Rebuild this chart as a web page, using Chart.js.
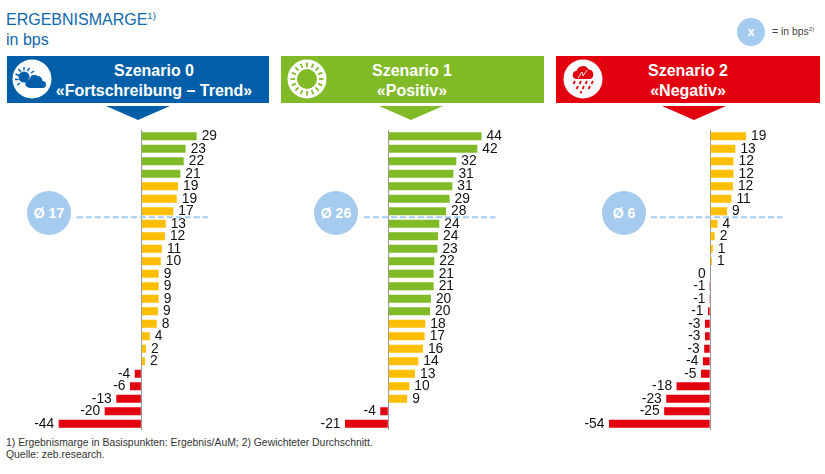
<!DOCTYPE html>
<html>
<head>
<meta charset="utf-8">
<script src="https://cdn.jsdelivr.net/npm/chart.js@4"></script>
<style>
  html, body { margin: 0; padding: 0; background: #fff; }
  body { position: relative; width: 825px; height: 474px; overflow: hidden; font-family: "Liberation Sans", Arial, sans-serif; }
  .abs { position: absolute; }
  .title { left: 6px; color: #1068ae; font-size: 16px; white-space: nowrap; }
  .title sup, .legend sup { font-size: 60%; line-height: 0; }
  .box { top: 56px; height: 47px; color: #fff; }
  .box div { position: absolute; top: 5px; transform: translateX(-50%); text-align: center; font-weight: bold; font-size: 16px; line-height: 19.5px; white-space: nowrap; }
  .arrow { top: 106px; width: 64px; height: 14px; clip-path: polygon(0 0, 100% 0, 50% 100%); }
  .icon { top: 59px; width: 40px; height: 40px; }
  .avg { top: 191px; width: 44px; height: 44px; border-radius: 50%; background: #a5cbee; color: #fff; font-weight: bold; font-size: 14px; line-height: 44px; text-align: center; }
  .chartbox { top: 130px; width: 270px; height: 300px; }
  .foot { left: 6px; font-size: 10.4px; color: #333; white-space: nowrap; }
</style>
</head>
<body>
<div class="abs title" style="top:11px">ERGEBNISMARGE<sup>1)</sup></div>
<div class="abs title" style="top:31px">in bps</div>

<div class="abs" style="left:737px;top:18px;width:28px;height:28px;border-radius:50%;background:#a5cbee;color:#fff;text-align:center;line-height:28px;font-size:12px;font-weight:bold">x</div>
<div class="abs legend" style="left:772px;top:26px;font-size:10.4px;color:#444;white-space:nowrap">= in bps<sup>2)</sup></div>

<div class="abs box" style="left:7px;width:262px;background:#005fa8"><div style="left:147px">Szenario 0<br>«Fortschreibung – Trend»</div></div>
<div class="abs box" style="left:281px;width:263px;background:#80ba27"><div style="left:131px">Szenario 1<br>«Positiv»</div></div>
<div class="abs box" style="left:556px;width:264px;background:#e2000f"><div style="left:132px">Szenario 2<br>«Negativ»</div></div>

<div class="abs arrow" style="left:106px;background:#005fa8"></div>
<div class="abs arrow" style="left:379px;background:#80ba27"></div>
<div class="abs arrow" style="left:662px;background:#e2000f"></div>

<svg class="abs icon" style="left:12px" viewBox="0 0 40 40">
  <circle cx="20" cy="20" r="19.5" fill="#fff"/>
  <g stroke="#005fa8" stroke-width="1.4">
    <path d="M12 8v3.500M6.500 10l2.500 3M3.500 15l3.500 1.500M3 20.500h3.500M5 26l3-2M17.500 9l-2 3M22 12l-3 2"/>
  </g>
  <circle cx="12" cy="18" r="5.500" fill="#005fa8"/>
  <path d="M11 27L26 11" stroke="#fff" stroke-width="1.5"/>
  <path d="M18 29a4.500 4.500 0 0 1 -.5-9a5 5 0 0 1 8-3a5 5 0 0 1 5 5a3.500 3.500 0 0 1 0 7z" fill="#005fa8"/>
</svg>
<svg class="abs icon" style="left:287px" viewBox="0 0 40 40">
  <circle cx="20" cy="20" r="19.5" fill="#fff"/>
  <circle cx="20" cy="20" r="10" fill="#80ba27"/>
  <g id="rays" stroke="#80ba27" stroke-width="1.8"></g>
</svg>
<svg class="abs icon" style="left:563px" viewBox="0 0 40 40">
  <circle cx="20" cy="20" r="19.5" fill="#fff"/>
  <path d="M14 20a4 4 0 0 1 -.5-8a6.500 6.500 0 0 1 12-1.500a5 5 0 0 1 2 9.500z" fill="#e2000f"/>
  <path d="M15 19l4-6l1 4l4-6" fill="none" stroke="#fff" stroke-width=".9"/>
  <g stroke="#e2000f" stroke-width="1.7">
    <path d="M12 22l-1.500 3M18 22l-1.500 3M24 22l-1.500 3M30 22l-1.500 3M15 27l-1.500 3M21 27l-1.500 3M27 27l-1.500 3M18.500 32l-1 2.500"/>
  </g>
</svg>

<div class="abs avg" style="left:27px">Ø 17</div>
<div class="abs avg" style="left:314px">Ø 26</div>
<div class="abs avg" style="left:602px">Ø 6</div>

<div class="abs chartbox" style="left:0"><canvas id="chart0"></canvas></div>
<div class="abs chartbox" style="left:280px"><canvas id="chart1"></canvas></div>
<div class="abs chartbox" style="left:555px"><canvas id="chart2"></canvas></div>

<div class="abs foot" style="top:437px">1) Ergebnismarge in Basispunkten: Ergebnis/AuM; 2) Gewichteter Durchschnitt.</div>
<div class="abs foot" style="top:449px">Quelle: zeb.research.</div>

<script>
// Beschriftungen wie im Bild, Balkenlaengen
const labels0 = [29, 23, 22, 21, 19, 19, 17, 13, 12, 11, 10, 9, 9, 9, 9, 8, 4, 2, 2, -4, -6, -13, -20, -44];
const bars0 = [29.1, 23.3, 22.3, 20.5, 19.3, 18.6, 16.8, 12.8, 12.4, 10.8, 10.2, 9.1, 9.1, 9.1, 8.7, 8.1, 4.4, 2.4, 1.9, -3.5, -6, -13.2, -19.3, -43.5];
const labels1 = [44, 42, 32, 31, 31, 29, 28, 24, 24, 23, 22, 21, 21, 20, 20, 18, 17, 16, 14, 13, 10, 9, -4, -21];
const bars1 = [44.4, 42.4, 32.4, 31, 30.5, 29.2, 27.5, 24.3, 23.7, 23.4, 21.9, 21.6, 21.6, 20.3, 19.9, 17.6, 17.3, 16.5, 14.3, 12.7, 10, 9, -3.8, -20.6];
const labels2 = [19, 13, 12, 12, 12, 11, 9, 4, 2, 1, 1, 0, -1, -1, -1, -3, -3, -3, -4, -5, -18, -23, -25, -54];
const bars2 = [19.1, 13.4, 12.4, 12.4, 12.1, 11.3, 9, 3.9, 2.4, 1.4, 0.9, 0, -0.1, -0.1, -1.2, -2.8, -2.8, -3.2, -3.9, -4.9, -17.9, -23.4, -24.5, -53.9];

// Durchschnitt (Zeile, auf der die gestrichelte Linie liegt)
const avgRow = 6.47;

const GREEN = '#80ba27';
const YELLOW = '#ffbf00';
const RED = '#e2000f';

function barColor(label) {
  if (label < 0) return RED;
  return label >= 20 ? GREEN : YELLOW;
}

// Strahlen der Sonne im Szenario-1-Symbol
const rays = document.getElementById('rays');
for (let i = 0; i < 16; i++) {
  const ray = document.createElementNS('http://www.w3.org/2000/svg', 'path');
  ray.setAttribute('d', 'M20 3.500v4.500');
  ray.setAttribute('transform', `rotate(${i * 22.5} 20 20)`);
  rays.appendChild(ray);
}

// Werte neben die Balken schreiben, gestrichelte Linie ueber die Skalen
const valueLabels = {
  id: 'valueLabels',
  afterDatasetsDraw(chart) {
    const ctx = chart.ctx;
    const { printed, avgFrom, avgTo } = chart.options.plugins.valueLabels;
    const meta = chart.getDatasetMeta(0);
    ctx.save();
    ctx.font = '13.8px "Liberation Sans", Arial, sans-serif';
    ctx.fillStyle = '#111';
    ctx.textBaseline = 'middle';
    meta.data.forEach((bar, i) => {
      const neg = printed[i] <= 0;
      ctx.textAlign = neg ? 'right' : 'left';
      ctx.fillText(String(printed[i]), bar.x + (neg ? -4.5 : 5), bar.y);
    });
    const y = chart.scales.y.getPixelForValue(avgRow);
    ctx.strokeStyle = '#a5cbee';
    ctx.lineWidth = 2;
    ctx.setLineDash([6, 3]);
    ctx.beginPath();
    ctx.moveTo(chart.scales.x.getPixelForValue(avgFrom), y);
    ctx.lineTo(chart.scales.x.getPixelForValue(avgTo), y);
    ctx.stroke();
    ctx.restore();
  }
};

function makeChart(id, printed, bars, xMin, xMax, avgFrom, avgTo) {
  new Chart(document.getElementById(id), {
    type: 'bar',
    data: {
      labels: printed.map((v, i) => String(i)),
      datasets: [{
        data: bars,
        backgroundColor: printed.map(barColor),
        categoryPercentage: 1,
        barPercentage: 0.64
      }]
    },
    options: {
      indexAxis: 'y',
      responsive: true,
      maintainAspectRatio: false,
      animation: false,
      layout: { padding: 0 },
      plugins: {
        legend: { display: false },
        tooltip: { enabled: false },
        valueLabels: { printed, avgFrom, avgTo }
      },
      scales: {
        x: {
          min: xMin,
          max: xMax,
          afterBuildTicks: axis => { axis.ticks = [{ value: 0 }]; },
          ticks: { display: false },
          grid: { color: '#999', lineWidth: 1, drawTicks: false },
          border: { display: false }
        },
        y: {
          ticks: { display: false },
          grid: { display: false, drawTicks: false },
          border: { display: false }
        }
      }
    },
    plugins: [valueLabels]
  });
}

makeChart('chart0', labels0, bars0, -74.4, 67.7, -34, 35);
makeChart('chart1', labels1, bars1, -51.57, 77, -11.6, 51);
makeChart('chart2', labels2, bars2, -82.6, 61.1, -31.5, 38.5);
</script>
</body>
</html>
